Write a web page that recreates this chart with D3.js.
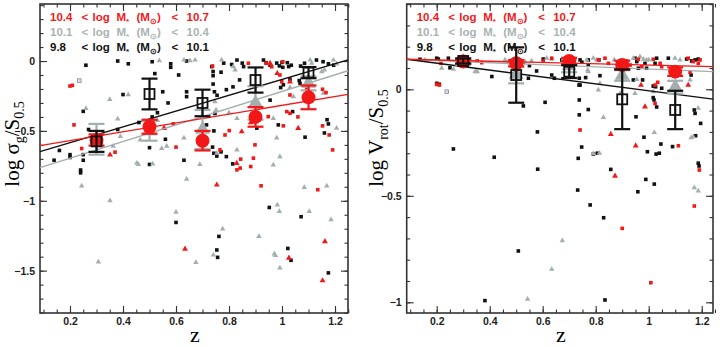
<!DOCTYPE html>
<html lang="en">
<head>
<script src="https://d3js.org/d3.v7.min.js"></script>
<style>
body { margin: 0; background: #fff; }
svg text { font-family: "Liberation Sans", Arial, sans-serif; }
</style>
</head>
<body>
<div id="chart"></div>
<script>
// ---- data (z, log value) ----
var zBins = [0.3, 0.5, 0.7, 0.9, 1.1];

// left panel: log sigma_g / S0.5
var sigRedMean = [-0.565, -0.47, -0.57, -0.40, -0.26];
var sigRedErr = [0.04, 0.05, 0.07, 0.07, 0.085];
var sigGrayMean = [-0.56, -0.50, -0.49, -0.30, -0.16];
var sigGrayErr = [0.11, 0.07, 0.14, 0.12, 0.05];
var sigBlackMean = [-0.575, -0.236, -0.30, -0.136, -0.083];
var sigBlackErr = [0.075, 0.11, 0.095, 0.09, 0.04];
// fits: [intercept, slope]
var sigFitRed = [-0.633, 0.316];
var sigFitGray = [-0.814, 0.596];
var sigFitBlack = [-0.697, 0.565];

var sigBlack = [[0.26,-0.03],[0.38,0.0],[0.42,-0.02],[0.51,-0.005],[0.58,-0.02],[0.58,-0.045],[0.64,0.0],[0.52,-0.09],[0.61,-0.10],[0.40,-0.24],[0.55,-0.22],[0.64,-0.22],[0.64,-0.255],[0.57,-0.30],[0.25,-0.36],[0.53,-0.37],[0.46,-0.44],[0.51,-0.40],[0.38,-0.49],[0.27,-0.49],[0.56,-0.56],[0.50,-0.62],[0.16,-0.64],[0.20,-0.67],[0.20,-0.69],[0.25,-0.67],[0.14,-0.71],[0.25,-0.71],[0.50,-0.74],[0.63,-0.71],[0.24,-0.78],[0.24,-0.80],
  [0.735,-0.04],[0.74,-0.075],[0.74,-0.105],[0.78,-0.015],[0.81,-0.025],[0.83,0.007],[0.85,-0.015],[0.855,-0.04],[0.77,-0.08],[0.93,0.007],[0.94,-0.012],[0.955,-0.03],[0.98,-0.015],[0.99,-0.035],[1.0,-0.01],[1.003,-0.045],[1.02,-0.012],[1.025,-0.04],[1.035,-0.03],[1.07,-0.036],[1.085,-0.016],[1.13,0.007],[1.155,-0.005],[1.175,-0.02],[1.195,-0.03],[0.74,-0.165],[0.745,-0.22],[0.755,-0.245],[0.79,-0.205],[0.815,-0.185],[0.84,-0.135],[0.955,-0.28],[0.995,-0.19],[1.005,-0.17],[1.03,-0.13],[1.065,-0.14],[1.068,-0.16],[1.17,-0.42],[1.175,-0.45],[1.16,-0.515],[1.087,-0.545],[0.743,-0.50],[0.747,-0.375],[0.715,-0.457],[0.986,-0.457],[0.738,-0.616],[0.743,-0.66],[0.754,-0.68],[0.77,-0.65],[0.814,-0.736],[1.04,-0.362],[0.905,-0.48],[0.79,-0.684],
  [0.952,-1.048],[1.072,-1.114],[0.6,-1.155],[0.762,-1.255],[0.754,-1.352],[0.757,-1.405],[1.022,-1.341],[1.034,-1.426],[1.175,-1.516]];
var sigGray = [[0.35,-0.275],[0.26,-0.34],[0.42,-0.24],[0.38,-0.415],[0.53,-0.425],[0.555,-0.475],[0.39,-0.54],[0.465,-0.565],[0.63,-0.55],[0.565,-0.61],[0.363,-0.61],[0.458,-0.74],[0.546,-0.625],[0.537,0.002],[0.63,0.007],[0.653,0.002],[0.672,0.007],[0.772,0.007],[0.816,-0.04],[0.823,-0.064],[0.747,-0.29],[0.751,-0.35],[0.80,-0.37],[0.83,-0.41],[0.754,-0.66],[0.69,-0.74],[0.83,-0.636],[0.967,-0.41],[0.98,-0.55],[1.03,-0.188],[1.106,0.007],[1.112,-0.016],[1.194,0.007],[1.206,-0.021],[1.15,-0.076],[1.156,-0.23],[1.043,-0.255],[0.992,-0.684],[0.452,-0.73],[0.512,-0.736],[0.967,-0.743],[1.206,-0.48],[1.16,-0.064],
  [0.244,-0.893],[0.64,-0.845],[1.084,-0.905],[1.169,-0.893],[0.351,-1.0],[0.982,-1.029],[0.99,-1.076],[1.103,-1.076],[1.185,-1.136],[0.60,-1.081],[0.776,-1.202],[0.913,-1.255],[0.741,-1.388],[0.675,-1.441],[0.307,-1.438],[0.971,-1.381],[0.975,-1.391],[0.992,-1.481]];
var sigRedSq = [[0.20,-0.179],[0.209,-0.174],[0.215,-0.457],[0.244,-0.626],[0.37,-0.652],[0.59,-0.45],[0.60,-0.616],[0.738,-0.036],[0.873,-0.016],[0.94,-0.016],[1.003,-0.005],[0.961,-0.041],[0.992,-0.1],[0.999,-0.148],[1.093,-0.195],[1.153,-0.202],[1.166,-0.226],[1.03,-0.243],[1.018,-0.362],[1.03,-0.374],[0.948,-0.398],[0.801,-0.498],[0.785,-0.529],[1.005,-0.464],[1.153,-0.464],[1.191,-0.636],[0.766,-0.636],[0.892,-0.695],[0.882,-0.755],[0.842,-0.766],[0.844,-0.702],[0.898,-0.60],[1.178,-0.529],[1.06,-0.40],[0.83,-0.779],[0.921,-0.893],[1.135,-0.921]];
var sigRedTri = [[0.351,-0.671],[0.555,-0.481],[0.955,-0.016],[0.982,-0.088],[1.03,-0.148],[0.882,-0.441],[0.848,-0.505],[1.061,-0.481],[0.829,-0.731],[0.754,-0.886],[1.162,-1.291],[0.634,-1.345],[1.026,-1.409],[1.153,-1.571]];
var sigOdd = [[0.235,-0.14]];

// right panel: log Vrot / S0.5
var vrotRedMean = [0.13, 0.122, 0.133, 0.114, 0.083];
var vrotRedErr = [0.01, 0.015, 0.015, 0.02, 0.02];
var vrotGrayMean = [0.13, 0.07, 0.11, 0.065, 0.01];
var vrotGrayErr = [0.015, 0.042, 0.03, 0.025, 0.03];
var vrotBlackMean = [0.133, 0.067, 0.083, -0.047, -0.097];
var vrotBlackErr = [0.012, 0.13, 0.03, 0.14, 0.09];
var vrotFitRed = [0.144, -0.030];
var vrotFitGray = [0.145, -0.05];
var vrotFitBlack = [0.155, -0.162];

var vrotBlack = [[0.137,0.141],[0.2,0.146],[0.206,0.142],[0.244,0.146],[0.25,0.101],[0.2,0.028],[0.21,0.024],[0.408,0.06],[0.527,0.127],[0.55,0.111],[0.546,0.052],[0.577,0.086],[0.602,0.142],[0.634,0.067],[0.609,-0.061],[0.58,-0.2],[0.263,-0.28],[0.417,-0.319],[0.527,-0.078],[0.581,-0.375],[0.644,0.052],[0.738,0.052],[0.737,0.02],[0.738,-0.05],[0.772,-0.095],[0.738,-0.12],[0.734,-0.324],[0.791,-0.304],[0.806,-0.30],[0.857,-0.376],[0.952,-0.129],[0.982,-0.225],[0.995,-0.293],[1.028,-0.304],[1.04,-0.30],[1.046,-0.257],[1.017,0.015],[1.02,-0.05],[1.09,-0.269],[1.172,-0.097],[1.175,-0.113],[1.196,-0.16],[1.187,-0.347],[1.19,-0.36],
  [0.672,0.138],[0.741,0.138],[0.748,0.127],[0.772,0.138],[0.772,0.115],[0.812,0.138],[0.948,0.146],[0.955,0.13],[0.961,0.099],[0.986,0.122],[0.992,0.099],[1.03,0.146],[1.024,0.122],[1.074,0.146],[1.143,0.142],[1.162,0.133],[1.175,0.138],[1.187,0.142],[0.762,0.055],[0.741,0.02],[0.816,0.064],[0.942,0.044],[0.977,0.044],[1.017,-0.039],[1.049,0.005],[1.026,0.012],[1.03,-0.083],[1.16,0.067],
  [0.747,-0.271],[0.732,-0.473],[0.779,-0.543],[0.83,-0.603],[1.177,-0.218],[0.989,-0.423],[1.021,-0.445],[0.959,-0.481],[0.508,-0.759],[0.382,-0.992],[0.835,-0.989]];
var vrotGray = [[0.263,0.095],[0.345,0.083],[0.533,0.13],[0.558,0.133],[0.156,0.138],[0.219,0.099],[0.353,0.083],[0.458,0.138],[0.47,0.13],[0.615,0.146],[0.634,0.141],[0.766,0.138],[0.791,0.146],[0.804,0.138],[0.77,0.091],[0.772,0.083],[0.816,0.028],[0.829,-0.132],[0.87,0.138],[0.942,0.146],[0.967,0.153],[0.98,0.141],[0.992,0.138],[1.0,0.138],[0.955,0.047],[0.892,-0.019],[1.017,-0.011],[1.099,0.146],[1.118,0.138],[1.156,0.044],[1.168,-0.222],[1.187,-0.089],[0.814,-0.30],[0.81,-0.003],[0.948,-0.019],[0.791,-0.302],[1.021,-0.202],[1.16,-0.227],[1.172,-0.462],[1.187,-0.477],[0.674,-0.711],[0.634,-0.845],[0.543,-0.985]];
var vrotRedSq = [[0.2,0.023],[0.21,0.02],[0.216,0.122],[0.353,0.133],[0.37,0.125],[0.602,0.133],[0.634,0.146],[0.81,0.138],[0.835,0.146],[0.848,0.122],[0.917,0.133],[0.93,0.114],[0.961,0.141],[0.974,0.106],[1.017,0.141],[1.043,0.122],[1.024,0.02],[1.034,0.033],[1.049,0.106],[1.149,0.146],[1.168,0.13],[1.187,0.122],[1.194,0.138],[1.156,0.08],[1.024,-0.066],[0.741,-0.191],[1.112,-0.265],[1.191,-0.379],[1.172,-0.548],[0.9,-0.653],[1.008,-0.908]];
var vrotRedTri = [[0.971,0.02],[0.986,-0.082],[1.149,0.02],[0.857,-0.211],[0.951,-0.265],[0.873,-0.407]];
var vrotOdd = [[0.238,-0.011]];

var zMajor = [0.2, 0.4, 0.6, 0.8, 1.0, 1.2];
var zMinor = d3.range(0.1, 1.26, 0.05);
var sigMajor = [0, -0.5, -1, -1.5];
var vrotMajor = [0, -0.5, -1];

var legendRows = [
  { lo: "10.4", hi: "10.7", key: "red" },
  { lo: "10.1", hi: "10.4", key: "gray" },
  { lo: "9.8", hi: "10.1", key: "black" }
];

// ---- drawing ----
var colors = { red: "#f21818", gray: "#a4aeae", black: "#111111" };

var svg = d3.select("#chart").append("svg")
    .attr("width", 720)
    .attr("height", 347);

function fmt(d) {
    return String(+d.toFixed(2)).replace("-", "\u2212");
}

function drawPanel(p) {
    var g = svg.append("g");
    var x = d3.scaleLinear().domain(p.xDomain).range([p.left, p.right]);
    var y = d3.scaleLinear().domain(p.yDomain).range([p.bottom, p.top]);

    // axes, ticks pointing inward on all four sides
    var yMinor = d3.range(Math.ceil(p.yDomain[0] * 10) / 10, p.yDomain[1], 0.1);
    function axes(axisFn, scale, major, minor, pos, labels) {
        var a = g.append("g").attr("transform", pos);
        a.call(axisFn(scale).tickValues(minor).tickSize(-3.5).tickFormat(""));
        var b = g.append("g").attr("transform", pos);
        b.call(axisFn(scale).tickValues(major).tickSize(-7).tickPadding(5)
            .tickFormat(labels ? fmt : ""));
        [a, b].forEach(function(s) {
            s.select(".domain").remove();
            s.selectAll("line").attr("stroke", "#333").attr("stroke-width", 1.1);
        });
        b.selectAll("text").attr("fill", "#222").style("font-size", "10.5px").style("font-weight", "bold");
        return b;
    }
    axes(d3.axisBottom, x, zMajor, zMinor, "translate(0," + p.bottom + ")", true);
    axes(d3.axisTop, x, zMajor, zMinor, "translate(0," + p.top + ")", false);
    axes(d3.axisLeft, y, p.yMajor, yMinor, "translate(" + p.left + ",0)", true);
    axes(d3.axisRight, y, p.yMajor, yMinor, "translate(" + p.right + ",0)", false);

    g.append("rect")
        .attr("x", p.left).attr("y", p.top)
        .attr("width", p.right - p.left).attr("height", p.bottom - p.top)
        .attr("fill", "none").attr("stroke", "#333").attr("stroke-width", 1.6);

    var plot = g.append("g");

    // individual galaxies
    var sq = 3.6;
    plot.selectAll(".bk").data(p.black).enter().append("rect")
        .attr("x", function(d) { return x(d[0]) - sq / 2; })
        .attr("y", function(d) { return y(d[1]) - sq / 2; })
        .attr("width", sq).attr("height", sq)
        .attr("fill", colors.black);
    plot.selectAll(".gy").data(p.gray).enter().append("path")
        .attr("d", d3.symbol().type(d3.symbolTriangle).size(13))
        .attr("transform", function(d) { return "translate(" + x(d[0]) + "," + y(d[1]) + ")"; })
        .attr("fill", colors.gray);
    plot.selectAll(".rs").data(p.redSq).enter().append("rect")
        .attr("x", function(d) { return x(d[0]) - sq / 2; })
        .attr("y", function(d) { return y(d[1]) - sq / 2; })
        .attr("width", sq).attr("height", sq)
        .attr("fill", colors.red);
    plot.selectAll(".rt").data(p.redTri).enter().append("path")
        .attr("d", d3.symbol().type(d3.symbolTriangle).size(15))
        .attr("transform", function(d) { return "translate(" + x(d[0]) + "," + y(d[1]) + ")"; })
        .attr("fill", colors.red);
    plot.selectAll(".od").data(p.odd).enter().append("rect")
        .attr("x", function(d) { return x(d[0]) - 1.8; })
        .attr("y", function(d) { return y(d[1]) - 1.8; })
        .attr("width", 3.6).attr("height", 3.6)
        .attr("fill", "#dde").attr("stroke", "#889").attr("stroke-width", 0.8);

    // fitted lines
    [["gray", p.fitGray], ["black", p.fitBlack], ["red", p.fitRed]].forEach(function(f) {
        var z0 = p.xDomain[0], z1 = p.xDomain[1];
        plot.append("line")
            .attr("x1", x(z0)).attr("y1", y(f[1][0] + f[1][1] * z0))
            .attr("x2", x(z1)).attr("y2", y(f[1][0] + f[1][1] * z1))
            .attr("stroke", colors[f[0]]).attr("stroke-width", 1.4);
    });

    // binned medians with error bars
    function errBars(mean, err, color) {
        var eg = plot.append("g").attr("stroke", color).attr("stroke-width", 2.2);
        zBins.forEach(function(z, i) {
            var cx = x(z), lo = y(mean[i] - err[i]), hi = y(mean[i] + err[i]);
            eg.append("line").attr("x1", cx).attr("x2", cx).attr("y1", lo).attr("y2", hi);
            eg.append("line").attr("x1", cx - 8).attr("x2", cx + 8).attr("y1", lo).attr("y2", lo);
            eg.append("line").attr("x1", cx - 8).attr("x2", cx + 8).attr("y1", hi).attr("y2", hi);
        });
    }
    errBars(p.grayMean, p.grayErr, colors.gray);
    plot.selectAll(".gm").data(p.grayMean).enter().append("path")
        .attr("d", d3.symbol().type(d3.symbolTriangle).size(95))
        .attr("transform", function(d, i) { return "translate(" + x(zBins[i]) + "," + y(d) + ")"; })
        .attr("fill", colors.gray);
    errBars(p.redMean, p.redErr, colors.red);
    plot.selectAll(".rm").data(p.redMean).enter().append("circle")
        .attr("cx", function(d, i) { return x(zBins[i]); })
        .attr("cy", function(d) { return y(d); })
        .attr("r", 7).attr("fill", colors.red);
    errBars(p.blackMean, p.blackErr, colors.black);
    plot.selectAll(".bm").data(p.blackMean).enter().append("rect")
        .attr("x", function(d, i) { return x(zBins[i]) - 5; })
        .attr("y", function(d) { return y(d) - 5; })
        .attr("width", 10).attr("height", 10)
        .attr("fill", "none").attr("stroke", colors.black).attr("stroke-width", 1.8);

    // legend
    var lx = p.left + 10;
    legendRows.forEach(function(r, i) {
        var t = g.append("text")
            .attr("y", 20.5 + i * 15)
            .attr("fill", r.key === "gray" ? "#a9b3b3" : colors[r.key])
            .style("font-size", "11.5px").style("font-weight", "bold");
        t.append("tspan").attr("x", lx).text(r.lo);
        t.append("tspan").attr("x", lx + 31.5).text("<");
        t.append("tspan").attr("x", lx + 42.5).text("log");
        t.append("tspan").attr("x", lx + 66.5).text("M");
        t.append("tspan").attr("dy", 3).style("font-size", "8px").text("*");
        t.append("tspan").attr("x", lx + 86.5).attr("dy", -3).text("(M");
        t.append("tspan").attr("dy", 3).style("font-size", "8px").text("\u2299");
        t.append("tspan").attr("dy", -3).text(")");
        t.append("tspan").attr("x", lx + 121.5).text("<");
        t.append("tspan").attr("x", lx + 136.5).text(r.hi);
    });

    // axis titles
    g.append("text")
        .attr("x", (p.left + p.right) / 2 + 1).attr("y", 342)
        .attr("text-anchor", "middle")
        .style("font-family", "'Liberation Serif', 'DejaVu Serif', serif")
        .style("font-size", "22px")
        .text("z");

    var yl = g.append("text")
        .attr("transform", "translate(" + p.yLabelX + "," + p.yLabelY + ") rotate(-90)")
        .attr("text-anchor", "middle")
        .style("font-family", "'Liberation Serif', 'DejaVu Serif', serif")
        .style("font-size", "21px");
    yl.append("tspan").text("log " + p.yLabelMain);
    yl.append("tspan").attr("dy", 5).style("font-size", "14px").text(p.yLabelSub);
    yl.append("tspan").attr("dy", -5).text("/S");
    yl.append("tspan").attr("dy", 5).style("font-size", "14px").text("0.5");
}

drawPanel({
    left: 40, right: 348, top: 4, bottom: 313,
    xDomain: [0.0868, 1.249], yDomain: [-1.803, 0.408], yMajor: sigMajor,
    black: sigBlack, gray: sigGray, redSq: sigRedSq, redTri: sigRedTri, odd: sigOdd,
    fitRed: sigFitRed, fitGray: sigFitGray, fitBlack: sigFitBlack,
    redMean: sigRedMean, redErr: sigRedErr, grayMean: sigGrayMean, grayErr: sigGrayErr,
    blackMean: sigBlackMean, blackErr: sigBlackErr,
    yLabelX: 19, yLabelY: 144, yLabelMain: "\u03c3", yLabelSub: "g"
});

drawPanel({
    left: 406.7, right: 713, top: 4, bottom: 313,
    xDomain: [0.0868, 1.2426], yDomain: [-1.0502, 0.4005], yMajor: vrotMajor,
    black: vrotBlack, gray: vrotGray, redSq: vrotRedSq, redTri: vrotRedTri, odd: vrotOdd,
    fitRed: vrotFitRed, fitGray: vrotFitGray, fitBlack: vrotFitBlack,
    redMean: vrotRedMean, redErr: vrotRedErr, grayMean: vrotGrayMean, grayErr: vrotGrayErr,
    blackMean: vrotBlackMean, blackErr: vrotBlackErr,
    yLabelX: 383, yLabelY: 138, yLabelMain: "V", yLabelSub: "rot"
});
</script>
</body>
</html>
